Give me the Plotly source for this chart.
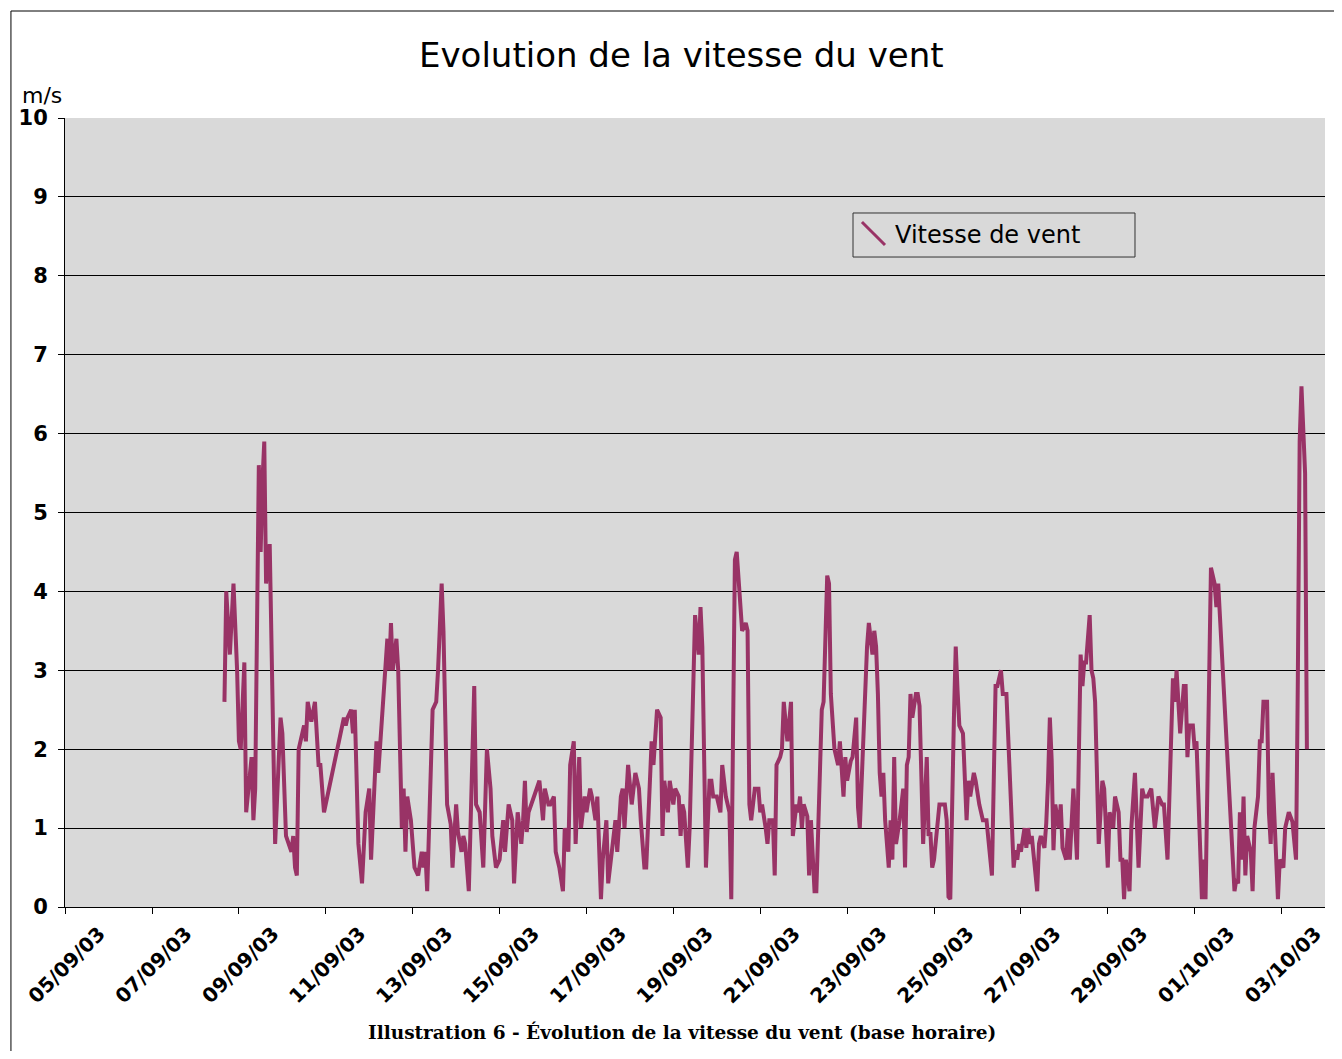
import plotly.graph_objects as go
import pandas as pd

# Hours elapsed since 05/09/03 00:00 (hourly record)
hours = (
    [88, 89, 91, 93, 95, 96, 97, 99, 100, 103, 104, 105, 107, 108, 109, 110, 111, 113, 116, 119, 120]
    + [122, 125, 126, 127, 128, 129, 132, 133, 134, 136, 138, 140, 141, 143]
    + [154, 155, 156, 158, 159, 160, 162, 164, 166, 168, 169, 172, 173]
    + [178, 179, 180, 181, 183, 184, 186, 187, 188, 189, 191, 193, 195, 197, 198, 199, 200]
    + [202, 203, 205, 206, 208, 209, 211, 213, 214, 216, 217, 219, 220, 221, 223]
    + [226, 227, 229, 231, 233, 235, 236, 238, 240, 242, 243, 245, 247, 248, 250, 252, 253, 254, 255, 256]
    + [262, 264, 265, 267, 268, 270, 271, 273, 275, 276, 278, 279, 281, 282, 284, 285, 287, 288, 290, 291, 293, 294]
    + [296, 297, 299, 300, 303, 304, 305, 307, 308, 309, 311, 313, 315, 317, 318, 320, 321]
    + [324, 325, 327, 329, 330, 331, 333, 334, 336, 337, 339, 340, 341, 342, 344, 345]
    + [348, 350, 351, 352, 354, 356, 357, 358, 360, 362, 363, 365, 367, 368]
    + [370, 371, 372, 374, 376, 377, 378, 379, 381, 383, 384, 385, 387, 388, 389, 391, 392]
    + [393, 395, 396, 397, 399, 401, 402, 404, 405, 406, 407, 408, 410, 411, 412, 414, 415]
    + [418, 419, 421, 422, 423, 425, 427, 428, 430, 431, 432, 434, 435, 437, 438, 439]
    + [443, 444, 446, 447, 448, 449, 450, 451, 452, 453, 455, 456, 457, 458, 459, 461, 463, 464]
    + [465, 466, 467, 468, 470, 471, 472, 474, 476, 477, 478, 479, 480, 483, 486, 487, 488, 489]
    + [491, 492, 493, 494, 496, 497, 498, 499, 500, 502, 503, 505, 507, 509, 510, 512]
    + [514, 515, 517, 518, 520, 522, 524, 525, 526, 527, 528, 530, 531, 532, 533, 534, 536, 537]
    + [538, 539, 541, 542, 543, 544, 545, 546, 547, 549, 550, 551, 553, 554, 555, 556, 557, 559]
    + [561, 562, 563, 564, 566, 567, 568, 569, 571, 573, 574, 576, 577, 579, 580, 582, 583, 584, 585, 586, 588, 589]
    + [591, 593, 595, 596, 598, 600, 602, 604, 606, 607, 609]
    + [612, 613, 614, 616, 618, 619, 620, 621, 623, 624, 625, 628, 629, 630]
    + [633, 635, 636, 637, 646, 647, 648, 649, 650, 651, 652, 653, 655, 656, 657, 659, 660, 661, 662, 664]
    + [665, 666, 667, 670, 671, 673, 674, 676, 678, 680, 681, 682, 683, 685, 686]
)

# Wind speed (m/s)
speeds = (
    [2.6, 4.0, 3.2, 4.1, 3.0, 2.1, 2.0, 3.1, 1.2, 1.9, 1.1, 1.5, 5.6, 4.5, 5.4, 5.9, 4.1, 4.6, 0.8, 2.4, 2.2]
    + [0.9, 0.7, 0.9, 0.5, 0.4, 2.0, 2.3, 2.1, 2.6, 2.35, 2.6, 1.8, 1.8, 1.2]
    + [2.4, 2.3, 2.4, 2.5, 2.2, 2.5, 0.8, 0.3, 1.2, 1.5, 0.6, 2.1, 1.7]
    + [3.4, 3.0, 3.6, 3.0, 3.4, 3.0, 1.0, 1.5, 0.7, 1.4, 1.1, 0.5, 0.4, 0.7, 0.5, 0.7, 0.2]
    + [1.7, 2.5, 2.6, 3.0, 4.1, 3.5, 1.3, 1.05, 0.5, 1.3, 0.95, 0.7, 0.9, 0.8, 0.2]
    + [2.8, 1.3, 1.2, 0.5, 2.0, 1.5, 0.9, 0.5, 0.6, 1.1, 0.7, 1.3, 1.1, 0.3, 1.2, 0.8, 1.1, 1.6, 0.95, 1.2]
    + [1.6, 1.1, 1.5, 1.3, 1.3, 1.4, 0.7, 0.5, 0.2, 1.0, 0.7, 1.8, 2.1, 0.8, 1.9, 1.0, 1.4, 1.2, 1.5, 1.4, 1.1, 1.4]
    + [0.1, 0.6, 1.1, 0.3, 0.9, 1.1, 0.7, 1.4, 1.5, 1.0, 1.8, 1.3, 1.7, 1.5, 1.1, 0.5, 0.5]
    + [2.1, 1.8, 2.5, 2.4, 0.9, 1.6, 1.2, 1.6, 1.3, 1.5, 1.4, 0.9, 1.3, 1.2, 0.5, 1.0]
    + [3.7, 3.2, 3.8, 3.3, 0.5, 1.6, 1.6, 1.4, 1.4, 1.2, 1.8, 1.4, 1.2, 0.1]
    + [4.4, 4.5, 4.1, 3.5, 3.6, 3.5, 1.3, 1.1, 1.5, 1.5, 1.2, 1.3, 1.0, 0.8, 1.1, 1.1, 0.4]
    + [1.8, 1.9, 2.0, 2.6, 2.1, 2.6, 0.9, 1.3, 1.2, 1.4, 1.0, 1.3, 1.15, 0.4, 1.1, 0.2, 0.2]
    + [2.5, 2.6, 4.2, 4.1, 2.7, 2.0, 1.8, 2.1, 1.4, 1.9, 1.6, 1.85, 1.9, 2.4, 1.27, 1.0]
    + [3.3, 3.6, 3.2, 3.5, 3.3, 2.7, 1.7, 1.4, 1.7, 1.1, 0.5, 1.1, 0.6, 1.9, 0.8, 1.1, 1.5, 0.5]
    + [1.8, 1.9, 2.7, 2.4, 2.7, 2.7, 2.55, 0.8, 1.9, 0.9, 0.95, 0.5, 0.6, 1.3, 1.3, 1.1, 0.13, 0.1]
    + [2.4, 3.3, 2.75, 2.3, 2.2, 1.7, 1.1, 1.6, 1.4, 1.7, 1.6, 1.3, 1.1, 1.1, 0.9, 0.4]
    + [2.8, 2.8, 3.0, 2.7, 2.7, 1.5, 0.5, 0.72, 0.6, 0.8, 0.7, 1.0, 0.75, 1.0, 0.8, 0.9, 0.5, 0.2]
    + [0.8, 0.9, 0.75, 1.06, 1.6, 2.4, 1.86, 0.72, 1.3, 1.0, 1.3, 0.75, 0.6, 1.0, 0.6, 1.2, 1.5, 0.6]
    + [3.2, 2.8, 3.1, 3.1, 3.7, 3.0, 2.9, 2.6, 0.8, 1.6, 1.5, 0.5, 1.2, 1.0, 1.4, 1.2, 0.6, 0.6, 0.1, 0.6, 0.2, 1.0]
    + [1.7, 0.5, 1.5, 1.4, 1.4, 1.5, 1.0, 1.4, 1.3, 1.3, 0.6]
    + [2.9, 2.6, 3.0, 2.2, 2.8, 2.8, 1.9, 2.3, 2.3, 2.0, 2.1, 0.1, 0.6, 0.1]
    + [4.3, 4.1, 3.8, 4.1, 0.2, 0.35, 0.3, 1.2, 0.6, 1.4, 0.4, 0.9, 0.7, 0.2, 1.0, 1.4, 2.1, 2.1, 2.6, 2.6]
    + [1.2, 0.8, 1.7, 0.1, 0.6, 0.5, 1.0, 1.2, 1.08, 0.6, 2.9, 5.9, 6.6, 5.5, 2.0]
)

assert len(hours) == len(speeds)

series_name = "Vitesse de vent"
title_text = "Evolution de la vitesse du vent"
y_unit = "m/s"
caption_text = "Illustration 6 - Évolution de la vitesse du vent (base horaire)"
x_start = "2003-09-05"
x_range = ["2003-09-04 23:55", "2003-10-04"]

start = pd.Timestamp(x_start)
times = start + pd.to_timedelta(hours, unit="h")

LINE = "#993366"
SANS = "DejaVu Sans"

fig = go.Figure()
fig.add_trace(go.Scatter(
    x=times, y=speeds, mode="lines", name=series_name,
    line=dict(color=LINE, width=4), showlegend=False,
))

fig.update_layout(
    width=1326, height=1043, autosize=False,
    paper_bgcolor="white", plot_bgcolor="#d9d9d9",
    margin=dict(l=57, r=9, t=110, b=144),
    font=dict(family=SANS, color="black"),
    xaxis=dict(
        type="date", range=x_range,
        tick0=x_start, dtick=2 * 86400000, tickformat="%d/%m/%y",
        tickangle=-45, tickfont=dict(family=SANS, size=20, weight="bold", color="black"),
        ticklabelshift=34, ticklabeloverflow="allow",
        showgrid=False, zeroline=False,
        showline=True, linecolor="black", linewidth=1,
        ticks="outside", ticklen=6, tickcolor="black",
    ),
    yaxis=dict(
        range=[0, 10], dtick=1, tick0=0,
        tickfont=dict(family=SANS, size=21, weight="bold", color="black"),
        ticklabelstandoff=6,
        showgrid=True, gridcolor="black", gridwidth=1,
        zeroline=False,
        showline=True, linecolor="black", linewidth=1,
        ticks="outside", ticklen=6, tickcolor="black",
    ),
)

# Title, unit and caption
fig.add_annotation(xref="paper", yref="paper", x=0.4893, y=1.0798, text=title_text,
                   showarrow=False, xanchor="center", yanchor="middle",
                   font=dict(family=SANS, size=34, color="black"))
fig.add_annotation(xref="paper", yref="paper", x=-0.0357, y=1.029, text=y_unit,
                   showarrow=False, xanchor="left", yanchor="middle",
                   font=dict(family=SANS, size=22, color="black"))
fig.add_annotation(xref="paper", yref="paper", x=0.4893, y=-0.1584, text=caption_text,
                   showarrow=False, xanchor="center", yanchor="middle",
                   font=dict(family="DejaVu Serif", size=18.5, weight="bold", color="black"))

# Legend box (drawn to mimic the diagonal legend key)
fig.add_shape(type="rect", xref="paper", yref="paper",
              x0=0.6254, x1=0.8492, y0=0.8238, y1=0.8796,
              line=dict(color="#333333", width=1), fillcolor="#d9d9d9", layer="above")
fig.add_shape(type="line", xref="paper", yref="paper",
              x0=0.6325, x1=0.6508, y0=0.8682, y1=0.8390,
              line=dict(color=LINE, width=3), layer="above")
fig.add_annotation(xref="paper", yref="paper", x=0.6571, y=0.8517, text=series_name,
                   showarrow=False, xanchor="left", yanchor="middle",
                   font=dict(family=SANS, size=24, color="black"))

# Outer frame of the figure
fig.add_shape(type="rect", xref="paper", yref="paper",
              x0=-0.0429, x1=1.03, y0=-0.2, y1=1.1356,
              line=dict(color="black", width=1), fillcolor="rgba(0,0,0,0)", layer="above")

fig.write_html("out.html")
